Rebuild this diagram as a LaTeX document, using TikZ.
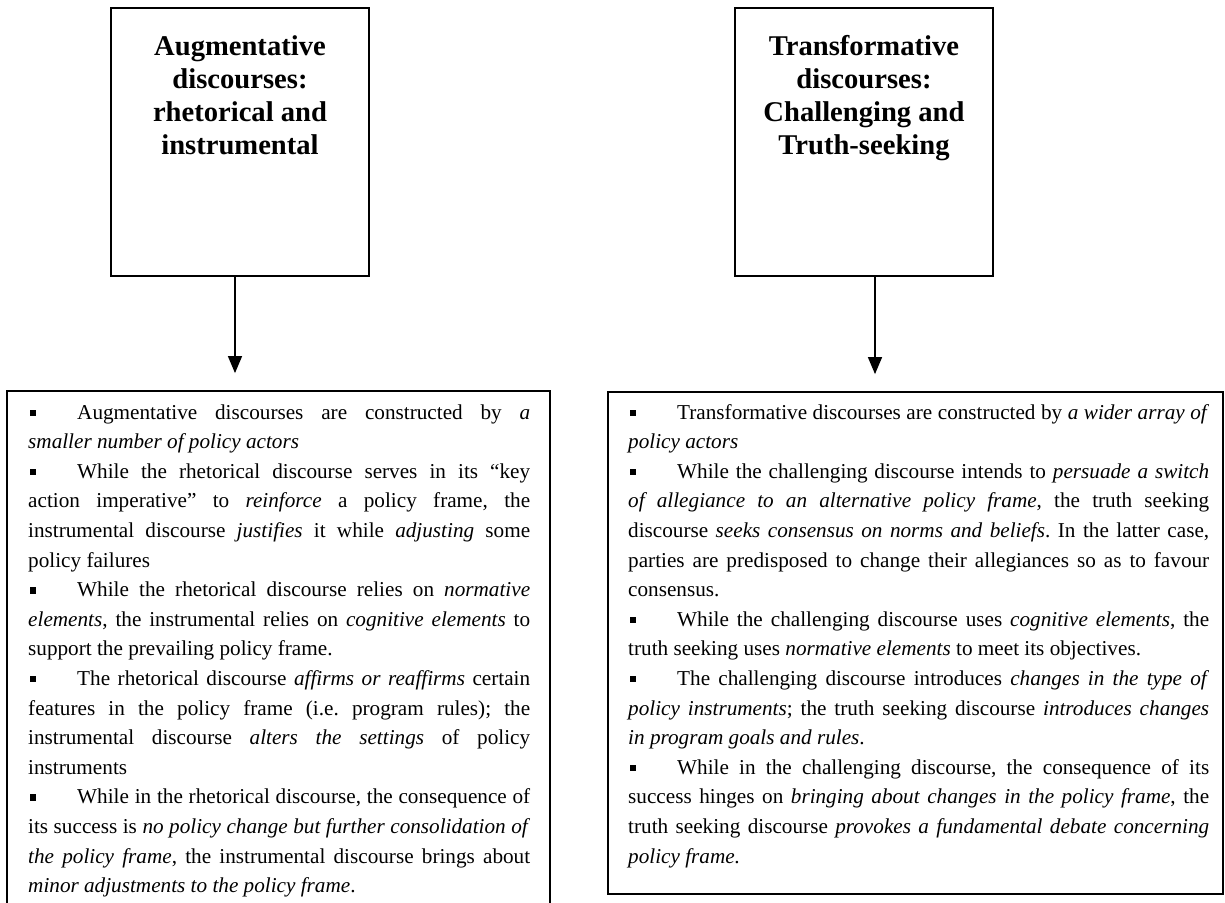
\documentclass[tikz,border=0pt]{standalone}
\usepackage{fontspec}
\setmainfont{Liberation Serif}
\usetikzlibrary{arrows.meta}
\frenchspacing
\newcommand{\bul}{\makebox[49pt][l]{\hspace{2pt}\rule[3pt]{6pt}{6.5pt}}}
\newcommand{\bodytext}[2]{\parbox[t]{#1}{\fontsize{21.2}{29.6}\selectfont\frenchspacing\tolerance=10000\emergencystretch=20pt\hyphenpenalty=10000\parindent=0pt\parskip=0pt #2}}
\newcommand{\titletext}[1]{\parbox[t]{250pt}{\centering\bfseries\fontsize{28.6}{33}\selectfont #1}}
\tikzset{
  topbox/.style={draw, line width=1.4pt, minimum width=258pt, minimum height=268pt, inner sep=0pt},
  lowbox/.style={draw, line width=1.8pt, inner sep=0pt},
  txt/.style={inner sep=0pt, anchor=base west},
  ttl/.style={inner sep=0pt, anchor=base},
  arr/.style={line width=1.4pt, -{Triangle[length=17pt,width=14pt]}, shorten >=17pt}
}
\begin{document}
\begin{tikzpicture}[x=1pt,y=-1pt]
\useasboundingbox (0,0) rectangle (1225,902);
% top boxes
\node[topbox] (ltop) at (240,142) {};
\node[topbox] (rtop) at (864,142) {};
\node[ttl] (ltitle) at (240,55) {\titletext{Augmentative\\ discourses:\\ rhetorical and\\ instrumental}};
\node[ttl] (rtitle) at (864,55) {\titletext{Transformative\\ discourses:\\ Challenging and\\ Truth-seeking}};
% lower boxes
\node[lowbox, minimum width=543pt, minimum height=521pt] (lbox) at (278.5,651.5) {};
\node[lowbox, minimum width=615pt, minimum height=502pt] (rbox) at (915.5,643) {};
% arrows
\coordinate (la) at (235,0);
\coordinate (ra) at (875,0);
\draw[arr] (la |- ltop.south) -- (la |- lbox.north);
\draw[arr] (ra |- rtop.south) -- (ra |- rbox.north);
% left text
\node[txt] (ltext) at (28,419) {\bodytext{502pt}{%
\bul Augmentative discourses are constructed by \textit{a}\linebreak
\textit{smaller number of policy actors}\par
\bul While the rhetorical discourse serves in its “key\linebreak
action imperative” to \textit{reinforce} a policy frame, the\linebreak
instrumental discourse \textit{justifies} it while \textit{adjusting} some\linebreak
policy failures\par
\bul While the rhetorical discourse relies on \textit{normative}\linebreak
\textit{elements}, the instrumental relies on \textit{cognitive elements} to\linebreak
support the prevailing policy frame.\par
\bul The rhetorical discourse \textit{affirms or reaffirms} certain\linebreak
features in the policy frame (i.e.\ program rules); the\linebreak
instrumental discourse \textit{alters the settings} of policy\linebreak
instruments\par
\bul While in the rhetorical discourse, the consequence of\linebreak
its success is \textit{no policy change but further consolidation of}\linebreak
\textit{the policy frame}, the instrumental discourse brings about\linebreak
\textit{minor adjustments to the policy frame}.\par}};
% right text
\node[txt] (rtext) at (628,419) {\bodytext{581pt}{%
\bul Transformative discourses are constructed by \textit{a wider array of}\linebreak
\textit{policy actors}\par
\bul While the challenging discourse intends to \textit{persuade a switch}\linebreak
\textit{of allegiance to an alternative policy frame}, the truth seeking\linebreak
discourse \textit{seeks consensus on norms and beliefs}. In the latter case,\linebreak
parties are predisposed to change their allegiances so as to favour\linebreak
consensus.\par
\bul While the challenging discourse uses \textit{cognitive elements}, the\linebreak
truth seeking uses \textit{normative elements} to meet its objectives.\par
\bul The challenging discourse introduces \textit{changes in the type of}\linebreak
\textit{policy instruments}; the truth seeking discourse \textit{introduces changes}\linebreak
\textit{in program goals and rules}.\par
\bul While in the challenging discourse, the consequence of its\linebreak
success hinges on \textit{bringing about changes in the policy frame}, the\linebreak
truth seeking discourse \textit{provokes a fundamental debate concerning}\linebreak
\textit{policy frame.}\par}};
\end{tikzpicture}
\end{document}
